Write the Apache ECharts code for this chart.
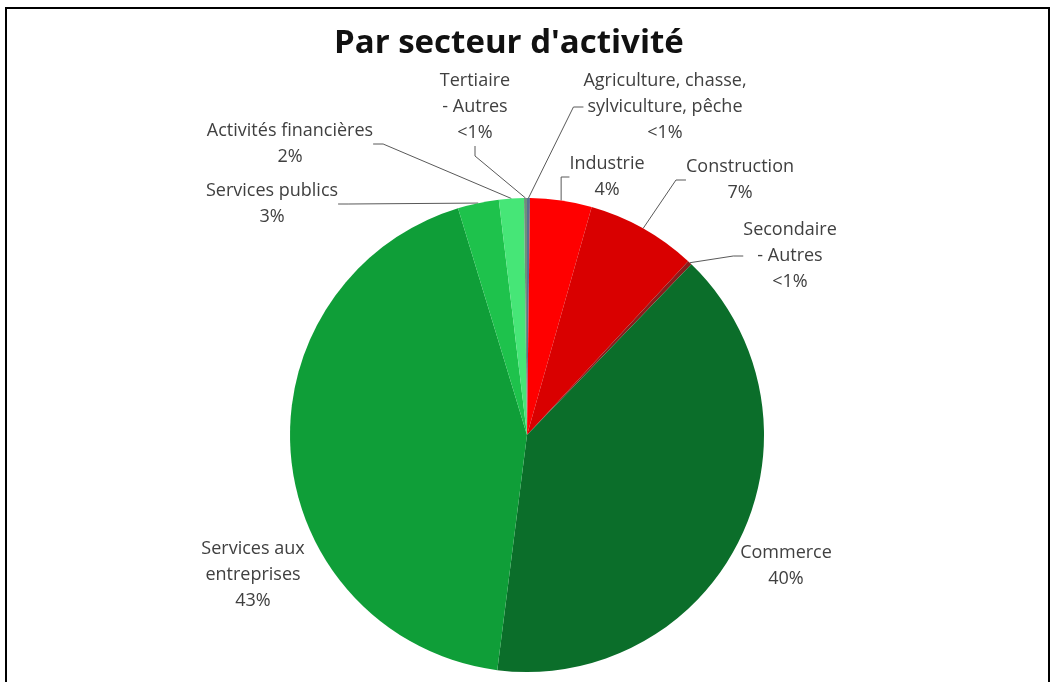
<!DOCTYPE html>
<html>
<head>
<meta charset="utf-8">
<script src="https://cdn.jsdelivr.net/npm/echarts@6/dist/echarts.min.js"></script>
<style>
html,body{margin:0;padding:0;background:#fff;}
#chart{width:1055px;height:682px;}
</style>
</head>
<body>
<div id="chart"></div>
<script>
// ---- data ----
var categories = [
  "Agriculture, chasse,\nsylviculture, pêche",
  "Industrie",
  "Construction",
  "Secondaire\n- Autres",
  "Commerce",
  "Services aux\nentreprises",
  "Services publics",
  "Activités financières",
  "Tertiaire\n- Autres"
];
var values = [0.2, 4.2, 7.5, 0.3, 39.8, 43.3, 2.8, 1.7, 0.2];
var pctLabels = ["<1%", "4%", "7%", "<1%", "40%", "43%", "3%", "2%", "<1%"];

// ---- styles / layout ----
var colors = ["#5b6f8f", "#ff0000", "#d90000", "#8c1c1c", "#0b6e2a", "#0f9e38", "#1ec24c", "#46e677", "#6f8f7a"];
// label block centres (x, y)
var labelPos = [
  [665, 107], [607, 177], [740, 180], [790, 256],
  [786, 566], [253, 575], [272, 204], [290, 144], [475, 107]
];
var showLine = [true, true, true, true, false, false, true, true, true];

var chart = echarts.init(document.getElementById('chart'), null, {renderer: 'canvas'});
var data = categories.map(function (c, i) {
  return {
    name: c,
    value: values[i],
    itemStyle: {color: colors[i]},
    label: {formatter: c + "\n" + pctLabels[i]},
    labelLine: {show: showLine[i]}
  };
});

chart.setOption({
  animation: false,
  backgroundColor: '#ffffff',
  title: {
    text: "Par secteur d'activité",
    left: 329, top: 22,
    textStyle: {fontFamily: 'Open Sans', fontWeight: 'bold', fontSize: 33, color: '#111111'}
  },
  graphic: [
    {type: 'rect', shape: {x: 6, y: 8, width: 1043, height: 700},
     style: {fill: 'none', stroke: '#000000', lineWidth: 2}, silent: true, z: 100}
  ],
  series: [{
    type: 'pie',
    center: [527, 435],
    radius: [0, 237],
    startAngle: 90,
    clockwise: true,
    avoidLabelOverlap: false,
    data: data,
    label: {
      show: true,
      position: 'outside',
      fontFamily: 'Open Sans',
      fontSize: 18,
      lineHeight: 26,
      color: '#404040',
      align: 'center'
    },
    labelLine: {
      show: true,
      length: 10, length2: 10,
      lineStyle: {color: '#595959', width: 1}
    },
    labelLayout: function (params) {
      var p = labelPos[params.dataIndex];
      return {x: p[0], y: p[1], align: 'center', verticalAlign: 'middle'};
    }
  }]
});
</script>
</body>
</html>
